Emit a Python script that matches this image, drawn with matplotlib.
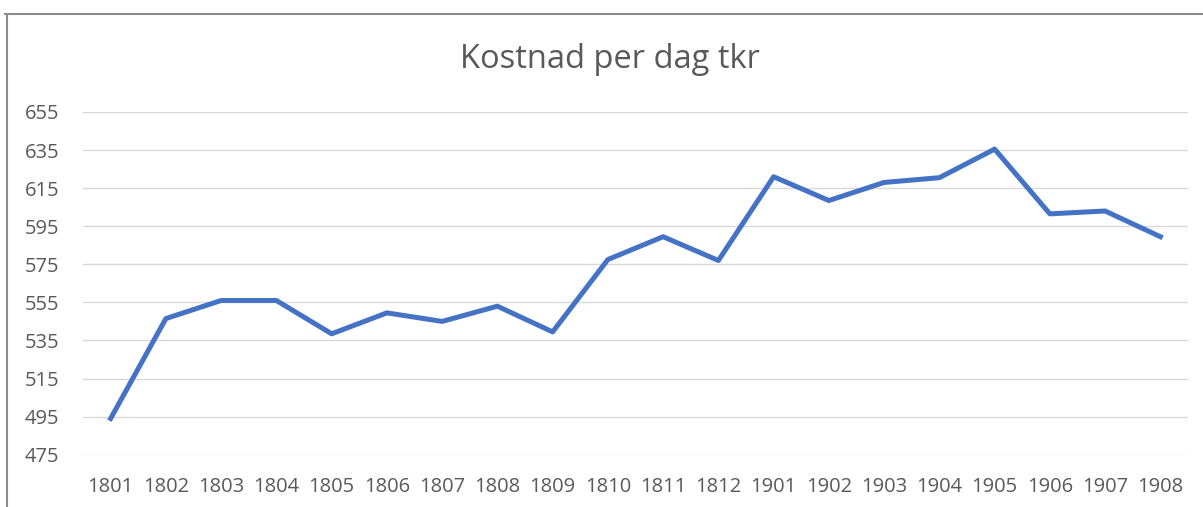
import matplotlib.pyplot as plt

# data
perioder = ['1801', '1802', '1803', '1804', '1805', '1806', '1807', '1808', '1809', '1810',
            '1811', '1812', '1901', '1902', '1903', '1904', '1905', '1906', '1907', '1908']
kostnad = [494, 546.5, 556, 556, 538.5, 549.5, 545, 553, 539.5, 577.5,
           589.5, 577, 621, 608.5, 618, 620.5, 635.5, 601.5, 603, 589.5]
y_ticks = [475, 495, 515, 535, 555, 575, 595, 615, 635, 655]

plt.rcParams['font.family'] = ['Open Sans', 'DejaVu Sans']
text_color = '#595959'

fig = plt.figure(figsize=(12.03, 5.07), dpi=100)
ax = fig.add_axes([83 / 1203, 1 - 454.7 / 507, 1105 / 1203, 342.7 / 507])

x = list(range(len(perioder)))
ax.plot(x, kostnad, color='#4472C4', linewidth=3.6, solid_joinstyle='round', zorder=3)

ax.set_xlim(-0.5, len(perioder) - 0.5)
ax.set_ylim(475, 655)
ax.set_yticks(y_ticks)
ax.set_xticks(x)
ax.set_xticklabels(perioder)
ax.tick_params(axis='both', length=0, labelsize=14.5, labelcolor=text_color)
ax.tick_params(axis='y', pad=17)
ax.tick_params(axis='x', pad=16)
ax.grid(axis='y', color='#D9D9D9', linewidth=1.0)
ax.set_axisbelow(True)
for s in ax.spines.values():
    s.set_visible(False)

fig.text(610 / 1203, 1 - 60 / 507, 'Kostnad per dag tkr', ha='center', va='center',
         fontsize=23.5, color=text_color)

# ramme rundt diagrammet (bare topp og venstre synlig)
fig.add_artist(plt.Line2D([5 / 1203, 1], [1 - 13.5 / 507, 1 - 13.5 / 507],
                          transform=fig.transFigure, color='#8C8C8C', linewidth=1.5))
fig.add_artist(plt.Line2D([7 / 1203, 7 / 1203], [0, 1 - 13.5 / 507],
                          transform=fig.transFigure, color='#8C8C8C', linewidth=1.5))

fig.savefig('out.png', dpi=100, facecolor='white')
